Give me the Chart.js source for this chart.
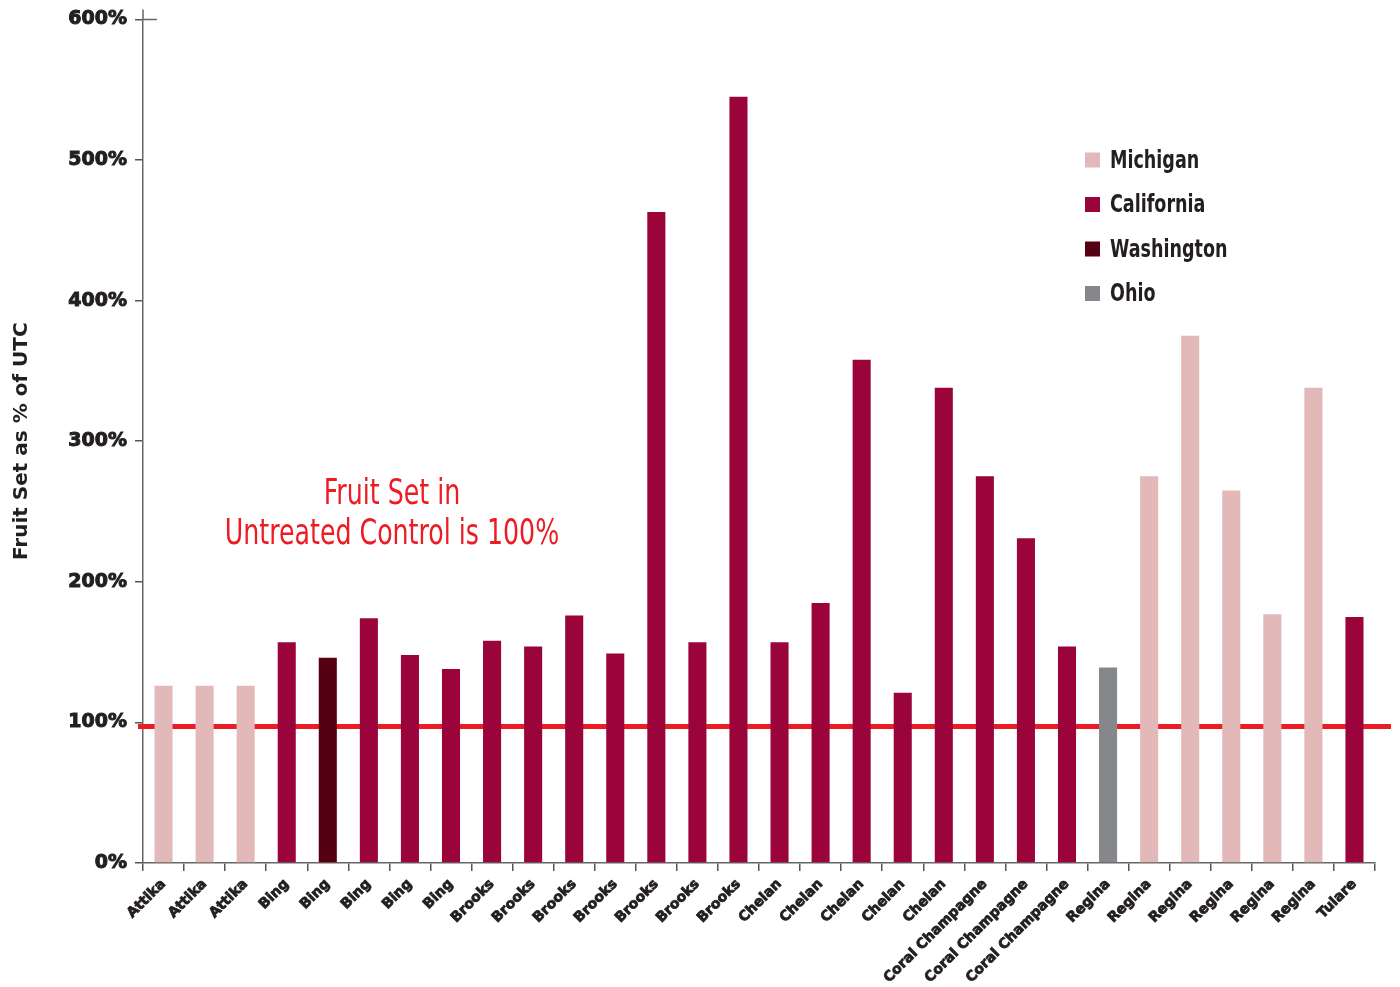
<!DOCTYPE html>
<html>
<head>
<meta charset="utf-8">
<script src="https://cdn.jsdelivr.net/npm/chart.js@4.4.1/dist/chart.umd.min.js"></script>
<style>
  html, body { margin: 0; padding: 0; background: #ffffff; }
  #wrap { width: 1400px; height: 987px; position: relative; }
</style>
</head>
<body>
<div id="wrap"><canvas id="c"></canvas></div>
<script>
const categories = ["Attika","Attika","Attika","Bing","Bing","Bing","Bing","Bing","Brooks","Brooks","Brooks","Brooks","Brooks","Brooks","Brooks","Chelan","Chelan","Chelan","Chelan","Chelan","Coral Champagne","Coral Champagne","Coral Champagne","Regina","Regina","Regina","Regina","Regina","Regina","Tulare"];
const michigan   = [126,126,126,null,null,null,null,null,null,null,null,null,null,null,null,null,null,null,null,null,null,null,null,null,275,375,265,177,338,null];
const california = [null,null,null,157,null,174,148,138,158,154,176,149,463,157,545,157,185,358,121,338,275,231,154,null,null,null,null,null,null,175];
const washington = [null,null,null,null,146,null,null,null,null,null,null,null,null,null,null,null,null,null,null,null,null,null,null,null,null,null,null,null,null,null];
const ohio       = [null,null,null,null,null,null,null,null,null,null,null,null,null,null,null,null,null,null,null,null,null,null,null,139,null,null,null,null,null,null];
const yTicks = [0,100,200,300,400,500,600];
const controlLevel = 97;
const seriesNames = ["Michigan","California","Washington","Ohio"];
const seriesColors = ["#E2B9B8","#9B043A","#560013","#86878A"];
const annotationLines = ["Fruit Set in","Untreated Control is 100%"];

const condensed = "'DejaVu Sans Condensed','Liberation Sans Narrow','DejaVu Sans',sans-serif";
const heavy = "'DejaVu Sans',sans-serif";
const dark = "#231F20";

const seriesData = [michigan, california, washington, ohio];
const datasets = seriesNames.map((name, i) => ({
  label: name,
  data: seriesData[i],
  backgroundColor: seriesColors[i],
  borderWidth: 0,
  barPercentage: 0.44,
  categoryPercentage: 1.0,
  skipNull: true
}));

const controlLine = {
  id: 'controlLine',
  beforeDatasetsDraw(chart) {
    const y = chart.scales.y.getPixelForValue(controlLevel);
    const a = chart.chartArea;
    const ctx = chart.ctx;
    ctx.save();
    ctx.strokeStyle = '#ED1C24';
    ctx.lineWidth = 5;
    ctx.beginPath();
    ctx.moveTo(a.left - 5, y);
    ctx.lineTo(a.right + 16, y);
    ctx.stroke();
    ctx.restore();
  }
};

function drawCondensed(ctx, text, x, y, sx, align) {
  ctx.save();
  ctx.translate(x, y);
  ctx.scale(sx, 1);
  ctx.textAlign = align;
  ctx.fillText(text, 0, 0);
  ctx.restore();
}

const overlay = {
  id: 'overlay',
  afterDraw(chart) {
    const ctx = chart.ctx;
    const a = chart.chartArea;
    const ys = chart.scales.y;
    ctx.save();
    // axis top extension and 600% cross tick
    ctx.strokeStyle = '#666';
    ctx.lineWidth = 1.5;
    ctx.beginPath();
    ctx.moveTo(a.left, a.top);
    ctx.lineTo(a.left, a.top - 10);
    const y600 = ys.getPixelForValue(600);
    ctx.moveTo(a.left, y600);
    ctx.lineTo(a.left + 14, y600);
    ctx.stroke();
    // annotation
    ctx.fillStyle = '#ED1C24';
    ctx.font = "36px " + condensed;
    ctx.textBaseline = 'alphabetic';
    drawCondensed(ctx, annotationLines[0], 392, 504, 0.78, 'center');
    drawCondensed(ctx, annotationLines[1], 392, 544, 0.78, 'center');
    // legend
    ctx.textBaseline = 'middle';
    ctx.font = "bold 25px " + condensed;
    chart.data.datasets.forEach((ds, i) => {
      const y = 160 + i * 44.5;
      ctx.fillStyle = ds.backgroundColor;
      ctx.fillRect(1085, y - 7.5, 15, 15);
      ctx.fillStyle = dark;
      drawCondensed(ctx, ds.label, 1110, y + 1, 0.78, 'left');
    });
    ctx.restore();
  }
};

new Chart(document.getElementById('c'), {
  type: 'bar',
  data: { labels: categories, datasets },
  options: {
    responsive: true,
    maintainAspectRatio: false,
    animation: false,
    layout: { padding: { top: 8, right: 25, left: 10, bottom: 0 } },
    plugins: { legend: { display: false }, tooltip: { enabled: false } },
    scales: {
      x: {
        stacked: true,
        grid: { display: true, drawOnChartArea: false, offset: true, tickLength: 8, color: '#555', lineWidth: 1.5 },
        border: { display: true, color: '#666', width: 1.5 },
        ticks: {
          color: dark, autoSkip: false, maxRotation: 45, minRotation: 45, padding: 5,
          textStrokeColor: dark, textStrokeWidth: 0.8,
          font: { family: heavy, size: 14, weight: 'bold' }
        },
        afterFit(scale) { scale.height = 124; }
      },
      y: {
        stacked: true,
        min: 0,
        max: 600,
        afterBuildTicks(scale) { scale.ticks = yTicks.map(v => ({ value: v })); },
        grid: { display: true, drawOnChartArea: false, tickLength: 8, color: '#555', lineWidth: 1.5 },
        border: { display: true, color: '#666', width: 1.5 },
        ticks: {
          color: dark, padding: 8,
          textStrokeColor: dark, textStrokeWidth: 1,
          font: { family: heavy, size: 19, weight: 'bold' },
          callback: v => v + '%'
        },
        title: {
          display: true, text: 'Fruit Set as % of UTC', color: dark,
          font: { family: heavy, size: 20, weight: 'bold' }, padding: { top: 0, bottom: 0 }
        },
        afterFit(scale) { scale.width = 133; }
      }
    }
  },
  plugins: [controlLine, overlay]
});
</script>
</body>
</html>
